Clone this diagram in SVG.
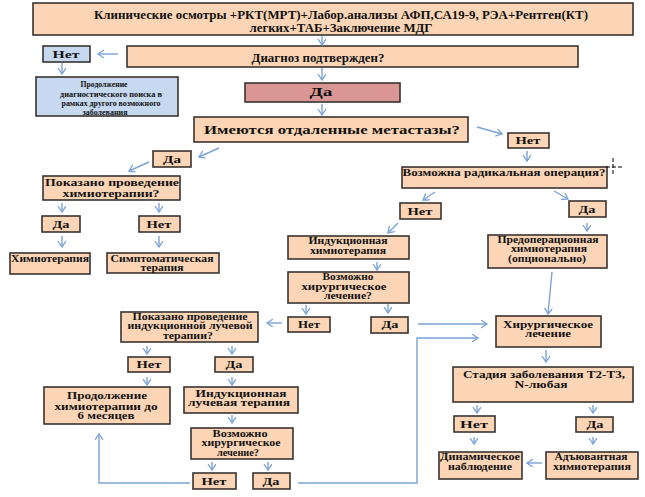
<svg xmlns="http://www.w3.org/2000/svg" width="645" height="497" viewBox="0 0 645 497">
<style>
.bx{fill:#FBD5B5;stroke:#3a3430;stroke-width:1.6}
.rd{fill:#D99694;stroke:#3a3430;stroke-width:1.6}
.bl{fill:#C6D9F1;stroke:#3a3430;stroke-width:1.6}
text{font-family:"Liberation Serif","Times New Roman",serif;font-weight:bold;fill:#111;text-anchor:middle}
.f12{font-size:12.5px}.f10{font-size:10.5px}.f9{font-size:9.5px}.f7{font-size:7.5px}
.c{fill:none;stroke:#7BA3D6;stroke-width:1.4;marker-end:url(#ah)}
</style>
<defs>
<marker id="ah" markerUnits="userSpaceOnUse" markerWidth="10" markerHeight="10" refX="6" refY="4" orient="auto">
<path d="M0,0 L6,4 L0,8" fill="none" stroke="#7BA3D6" stroke-width="1.3"/>
</marker>
</defs>
<rect width="645" height="497" fill="#fff"/>

<g id="n-top"><rect class="bx" x="33" y="3" width="600" height="32"/>
<text class="f12" x="341" y="19" textLength="494" lengthAdjust="spacingAndGlyphs">Клинические осмотры +РКТ(МРТ)+Лабор.анализы АФП,СА19-9, РЭА+Рентген(КТ)</text>
<text class="f12" x="341" y="32" textLength="183" lengthAdjust="spacingAndGlyphs">легких+ТАБ+Заключение МДГ</text></g>

<g id="n-net0"><rect class="bl" x="43" y="46" width="47" height="16"/>
<text class="f10" x="66" y="58" textLength="27" lengthAdjust="spacingAndGlyphs">Нет</text></g>

<g id="n-diag"><rect class="bx" x="127" y="46" width="451" height="21"/>
<text class="f12" x="318" y="62" textLength="133" lengthAdjust="spacingAndGlyphs">Диагноз подтвержден?</text></g>

<g id="n-prod0"><rect class="bl" x="36" y="77" width="142" height="39"/>
<text class="f7" x="104" y="87" textLength="47" lengthAdjust="spacingAndGlyphs">Продолжение</text>
<text class="f7" x="111" y="96.5" textLength="102" lengthAdjust="spacingAndGlyphs">диагностического поиска в</text>
<text class="f7" x="111" y="106" textLength="99" lengthAdjust="spacingAndGlyphs">рамках другого возможного</text>
<text class="f7" x="105" y="115" textLength="45" lengthAdjust="spacingAndGlyphs">заболевания</text></g>

<g id="n-da0"><rect class="rd" x="245" y="83" width="155" height="19"/>
<text class="f12" x="321" y="96" textLength="23" lengthAdjust="spacingAndGlyphs">Да</text></g>

<g id="n-met"><rect class="bx" x="194" y="117" width="274" height="25"/>
<text class="f12" x="332" y="134" textLength="256" lengthAdjust="spacingAndGlyphs">Имеются отдаленные метастазы?</text></g>

<g id="n-net1"><rect class="bx" x="508" y="133" width="41" height="15"/>
<text class="f9" x="528" y="144" textLength="25" lengthAdjust="spacingAndGlyphs">Нет</text></g>

<g id="n-da1"><rect class="bx" x="153" y="151" width="38" height="16"/>
<text class="f9" x="172" y="162.5" textLength="18" lengthAdjust="spacingAndGlyphs">Да</text></g>

<g id="n-chq"><rect class="bx" x="43" y="176" width="137" height="24"/>
<text class="f10" x="112" y="186" textLength="134" lengthAdjust="spacingAndGlyphs">Показано проведение</text>
<text class="f10" x="111" y="197" textLength="97" lengthAdjust="spacingAndGlyphs">химиотерапии?</text></g>

<g id="n-da2"><rect class="bx" x="42" y="216" width="38" height="16"/>
<text class="f9" x="61" y="228" textLength="17" lengthAdjust="spacingAndGlyphs">Да</text></g>
<g id="n-net2"><rect class="bx" x="139" y="216" width="41" height="16"/>
<text class="f9" x="159" y="228" textLength="25" lengthAdjust="spacingAndGlyphs">Нет</text></g>

<g id="n-chemo"><rect class="bx" x="10" y="253" width="80" height="21"/>
<text class="f9" x="50" y="262" textLength="78" lengthAdjust="spacingAndGlyphs">Химиотерапия</text></g>
<g id="n-sympt"><rect class="bx" x="107" y="253" width="112" height="20"/>
<text class="f9" x="162" y="262" textLength="103" lengthAdjust="spacingAndGlyphs">Симптоматическая</text>
<text class="f9" x="162" y="271" textLength="43" lengthAdjust="spacingAndGlyphs">терапия</text></g>

<g id="n-rad"><rect class="bx" x="402" y="167" width="205" height="21"/>
<text class="f9" x="504" y="176" textLength="203" lengthAdjust="spacingAndGlyphs">Возможна радикальная операция?</text></g>

<g id="n-net3"><rect class="bx" x="400" y="203" width="41" height="16"/>
<text class="f9" x="420" y="214.5" textLength="25" lengthAdjust="spacingAndGlyphs">Нет</text></g>
<g id="n-da3"><rect class="bx" x="569" y="201" width="37" height="16"/>
<text class="f9" x="587" y="212.5" textLength="17" lengthAdjust="spacingAndGlyphs">Да</text></g>

<g id="n-ind"><rect class="bx" x="288" y="236" width="121" height="23"/>
<text class="f9" x="348" y="244" textLength="79" lengthAdjust="spacingAndGlyphs">Индукционная</text>
<text class="f9" x="348" y="254" textLength="76" lengthAdjust="spacingAndGlyphs">химиотерапия</text></g>

<g id="n-pos1"><rect class="bx" x="288" y="272" width="121" height="31"/>
<text class="f9" x="348" y="280" textLength="51" lengthAdjust="spacingAndGlyphs">Возможно</text>
<text class="f9" x="344" y="290" textLength="85" lengthAdjust="spacingAndGlyphs">хирургическое</text>
<text class="f9" x="348" y="299" textLength="48" lengthAdjust="spacingAndGlyphs">лечение?</text></g>

<g id="n-preop"><rect class="bx" x="488" y="235" width="119" height="33"/>
<text class="f9" x="548" y="243" textLength="101" lengthAdjust="spacingAndGlyphs">Предоперационная</text>
<text class="f9" x="549" y="252" textLength="76" lengthAdjust="spacingAndGlyphs">химиотерапия</text>
<text class="f9" x="547" y="262" textLength="78" lengthAdjust="spacingAndGlyphs">(опционально)</text></g>

<g id="n-net4"><rect class="bx" x="288" y="317" width="42" height="15"/>
<text class="f9" x="309" y="328" textLength="22" lengthAdjust="spacingAndGlyphs">Нет</text></g>
<g id="n-da4"><rect class="bx" x="371" y="317" width="37" height="16"/>
<text class="f9" x="390" y="328" textLength="17" lengthAdjust="spacingAndGlyphs">Да</text></g>

<g id="n-radq"><rect class="bx" x="121" y="312" width="137" height="30"/>
<text class="f9" x="190" y="320" textLength="115" lengthAdjust="spacingAndGlyphs">Показано проведение</text>
<text class="f9" x="190" y="329" textLength="125" lengthAdjust="spacingAndGlyphs">индукционной лучевой</text>
<text class="f9" x="188" y="339" textLength="50" lengthAdjust="spacingAndGlyphs">терапии?</text></g>

<g id="n-net5"><rect class="bx" x="128" y="357" width="42" height="15"/>
<text class="f9" x="149" y="368" textLength="25" lengthAdjust="spacingAndGlyphs">Нет</text></g>
<g id="n-da5"><rect class="bx" x="215" y="357" width="38" height="15"/>
<text class="f9" x="234" y="368" textLength="17" lengthAdjust="spacingAndGlyphs">Да</text></g>

<g id="n-cont"><rect class="bx" x="44" y="387" width="126" height="37"/>
<text class="f9" x="107" y="399" textLength="80" lengthAdjust="spacingAndGlyphs">Продолжение</text>
<text class="f9" x="106" y="410" textLength="103" lengthAdjust="spacingAndGlyphs">химиотерапии до</text>
<text class="f9" x="106" y="419" textLength="57" lengthAdjust="spacingAndGlyphs">6 месяцев</text></g>

<g id="n-indrad"><rect class="bx" x="184" y="387" width="114" height="26"/>
<text class="f9" x="241" y="397" textLength="91" lengthAdjust="spacingAndGlyphs">Индукционная</text>
<text class="f9" x="239" y="406" textLength="102" lengthAdjust="spacingAndGlyphs">лучевая терапия</text></g>

<g id="n-pos2"><rect class="bx" x="191" y="428" width="102" height="31"/>
<text class="f9" x="240" y="437" textLength="55" lengthAdjust="spacingAndGlyphs">Возможно</text>
<text class="f9" x="241" y="446" textLength="79" lengthAdjust="spacingAndGlyphs">хирургическое</text>
<text class="f9" x="238" y="456" textLength="42" lengthAdjust="spacingAndGlyphs">лечение?</text></g>

<g id="n-net6"><rect class="bx" x="193" y="473" width="43" height="16"/>
<text class="f9" x="214" y="485" textLength="25" lengthAdjust="spacingAndGlyphs">Нет</text></g>
<g id="n-da6"><rect class="bx" x="253" y="473" width="37" height="16"/>
<text class="f9" x="271" y="485" textLength="17" lengthAdjust="spacingAndGlyphs">Да</text></g>

<g id="n-surg"><rect class="bx" x="496" y="316" width="105" height="31"/>
<text class="f9" x="548" y="328" textLength="90" lengthAdjust="spacingAndGlyphs">Хирургическое</text>
<text class="f9" x="548" y="337" textLength="46" lengthAdjust="spacingAndGlyphs">лечение</text></g>

<g id="n-stage"><rect class="bx" x="453" y="367" width="180" height="35"/>
<text class="f9" x="544" y="378" textLength="162" lengthAdjust="spacingAndGlyphs">Стадия заболевания Т2-Т3,</text>
<text class="f9" x="541" y="388" textLength="53" lengthAdjust="spacingAndGlyphs">N-любая</text></g>

<g id="n-net7"><rect class="bx" x="454" y="416" width="41" height="16"/>
<text class="f9" x="474" y="427.5" textLength="28" lengthAdjust="spacingAndGlyphs">Нет</text></g>
<g id="n-da7"><rect class="bx" x="576" y="417" width="37" height="15"/>
<text class="f9" x="595" y="428" textLength="17" lengthAdjust="spacingAndGlyphs">Да</text></g>

<g id="n-dyn"><rect class="bx" x="439" y="452" width="83" height="27"/>
<text class="f9" x="480" y="460" textLength="80" lengthAdjust="spacingAndGlyphs">Динамическое</text>
<text class="f9" x="480" y="470" textLength="64" lengthAdjust="spacingAndGlyphs">наблюдение</text></g>
<g id="n-adj"><rect class="bx" x="546" y="452" width="92" height="27"/>
<text class="f9" x="591" y="460" textLength="73" lengthAdjust="spacingAndGlyphs">Адъювантная</text>
<text class="f9" x="592" y="470" textLength="78" lengthAdjust="spacingAndGlyphs">химиотерапия</text></g>

<g id="connectors">
<path class="c" d="M322,36 V45"/>
<path class="c" d="M118,54 H98"/>
<path class="c" d="M62,63 V74"/>
<path class="c" d="M322,68 V80"/>
<path class="c" d="M322,104 V115"/>
<path class="c" d="M477,127 L502,134"/>
<path class="c" d="M219,148 L199,157"/>
<path class="c" d="M149,162 L129,171"/>
<path class="c" d="M62,203 V212"/>
<path class="c" d="M159,203 V212"/>
<path class="c" d="M62,236 V247"/>
<path class="c" d="M159,236 V247"/>
<path class="c" d="M527,151 V161"/>
<path class="c" d="M435,192 L423,200"/>
<path class="c" d="M554,191 L568,199"/>
<path class="c" d="M587,223 V231"/>
<path class="c" d="M398,223 L388,233"/>
<path class="c" d="M377,262 V270"/>
<path class="c" d="M306,305 V314"/>
<path class="c" d="M388,304 V313"/>
<path class="c" d="M282,323 H267"/>
<path class="c" d="M147,346 V354"/>
<path class="c" d="M232,346 V354"/>
<path class="c" d="M147,377 V385"/>
<path class="c" d="M232,377 V385"/>
<path class="c" d="M232,415 V423"/>
<path class="c" d="M212,462 V470"/>
<path class="c" d="M268,462 V470"/>
<path class="c" d="M190,483 H99 V434"/>
<path class="c" d="M298,483 H417 V338 H478"/>
<path class="c" d="M418,324 H487"/>
<path class="c" d="M552,272 L548,314"/>
<path class="c" d="M546,350 V362"/>
<path class="c" d="M477,405 V413"/>
<path class="c" d="M593,405 V413"/>
<path class="c" d="M474,437 V444"/>
<path class="c" d="M593,437 V444"/>
<path class="c" d="M542,463 H527"/>
</g>

<g id="cursor" stroke="#000" stroke-width="1" stroke-dasharray="4,2" fill="none">
<path d="M606,167 H622"/>
<path d="M613,158 V175"/>
</g>
</svg>
